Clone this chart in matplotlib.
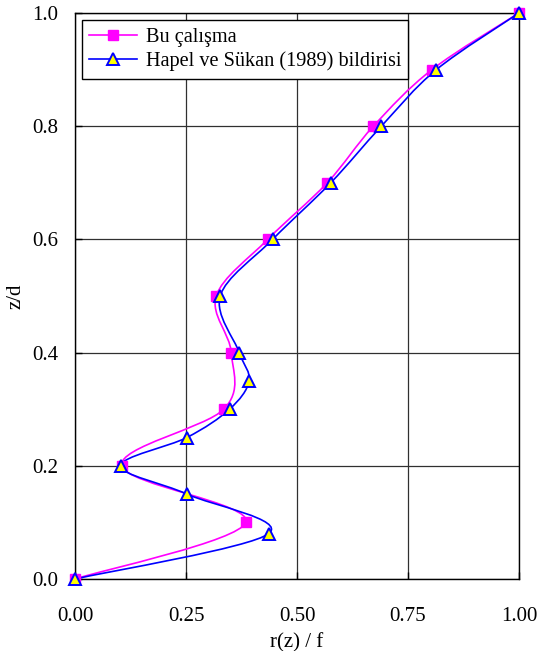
import matplotlib
matplotlib.use('Agg')
import matplotlib.pyplot as plt
import numpy as np
from matplotlib.path import Path
from matplotlib.patches import PathPatch
from matplotlib.lines import Line2D

# Bu çalışma
bu_r = [0.0, 0.385, 0.105, 0.335, 0.352, 0.318, 0.434, 0.568, 0.672, 0.804, 1.0]
bu_z = [0.0, 0.10, 0.20, 0.30, 0.40, 0.50, 0.60, 0.70, 0.80, 0.90, 1.0]

# Hapel ve Sükan (1989)
hs_r = [0.0, 0.436, 0.252, 0.103, 0.252, 0.348, 0.392, 0.370, 0.327, 0.445, 0.576, 0.690, 0.814, 1.0]
hs_z = [0.0, 0.08, 0.15, 0.20, 0.25, 0.30, 0.35, 0.40, 0.50, 0.60, 0.70, 0.80, 0.90, 1.0]

x_ticks = [0.0, 0.25, 0.50, 0.75, 1.0]
y_ticks = [0.0, 0.2, 0.4, 0.6, 0.8, 1.0]


def smooth_path(xs, ys):
    # Excel-like smoothed line: cubic Bezier segments, Catmull-Rom tangents
    p = np.column_stack([xs, ys])
    n = len(p)
    verts = [p[0]]
    codes = [Path.MOVETO]
    for i in range(n - 1):
        p0 = p[max(i - 1, 0)]
        p1 = p[i]
        p2 = p[i + 1]
        p3 = p[min(i + 2, n - 1)]
        c1 = p1 + (p2 - p0) / 6.0
        c2 = p2 - (p3 - p1) / 6.0
        verts += [c1, c2, p2]
        codes += [Path.CURVE4] * 3
    return Path(verts, codes)


plt.rcParams['font.family'] = ['Liberation Serif', 'DejaVu Serif']
plt.rcParams['font.size'] = 15

fig = plt.figure(figsize=(5.4, 6.51), dpi=100)
ax = fig.add_axes([0.139, 0.1106, 0.822, 0.8694])

ax.add_patch(PathPatch(smooth_path(bu_r, bu_z), fill=False, edgecolor='#FF00FF', lw=1.2, zorder=3))
ax.add_patch(PathPatch(smooth_path(hs_r, hs_z), fill=False, edgecolor='#0000FF', lw=1.2, zorder=4))
ax.plot(bu_r, bu_z, linestyle='none', marker='s', ms=7, mfc='#FF00FF', mec='#FF00FF',
        zorder=5, clip_on=False)
ax.plot(hs_r, hs_z, linestyle='none', marker='^', ms=9, mfc='#FFFF00', mec='#0000FF', mew=1.4,
        zorder=6, clip_on=False)

ax.set_xlim(0, 1)
ax.set_ylim(0, 1)
ax.set_xticks(x_ticks)
ax.set_yticks(y_ticks)
ax.set_xticklabels([f"{v:.2f}" for v in x_ticks])
ax.set_yticklabels([f"{v:.1f}" for v in y_ticks])
ax.tick_params(direction='in', length=5, width=1)
ax.tick_params(axis='x', pad=20)
ax.tick_params(axis='y', pad=12)
ax.grid(True, color='#303030', lw=0.9)
ax.set_axisbelow(True)
for s in ax.spines.values():
    s.set_linewidth(1.0)
    s.set_color('black')

ax.set_xlabel('r(z) / f', labelpad=5)
ax.set_ylabel('z/d', labelpad=5)

handles = [
    Line2D([], [], color='#FF00FF', lw=1.2, marker='s', ms=7, mfc='#FF00FF', mec='#FF00FF'),
    Line2D([], [], color='#0000FF', lw=1.2, marker='^', ms=9, mfc='#FFFF00', mec='#0000FF', mew=1.4),
]
leg = ax.legend(handles, ['Bu çalışma', 'Hapel ve Sükan (1989) bildirisi'],
                loc='upper left', bbox_to_anchor=(0.015, 0.987), borderaxespad=0,
                fancybox=False, framealpha=1, edgecolor='black', numpoints=1,
                prop={'size': 14.6},
                handlelength=2.4, handletextpad=0.4, labelspacing=0.25, borderpad=0.35)
leg.get_frame().set_linewidth(1.0)

fig.savefig('out.png', dpi=100)
